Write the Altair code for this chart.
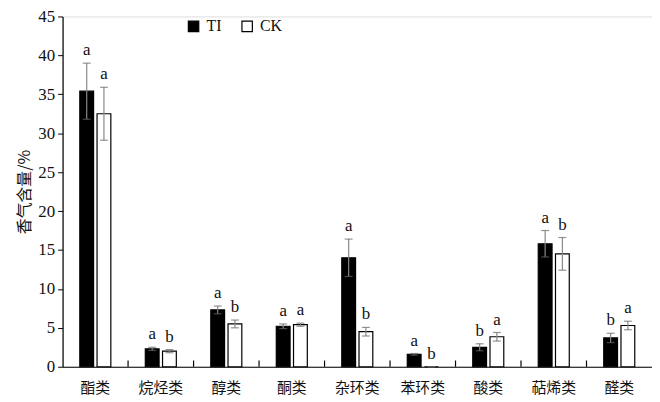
import altair as alt
import pandas as pd

categories = ["酯类", "烷烃类", "醇类", "酮类", "杂环类", "苯环类", "酸类", "萜烯类", "醛类"]
ti_mean = [35.4, 2.3, 7.3, 5.2, 14.0, 1.6, 2.5, 15.8, 3.7]
ti_sd = [3.6, 0.2, 0.5, 0.3, 2.4, 0.1, 0.45, 1.7, 0.6]
ti_sig = ["a", "a", "a", "a", "a", "a", "b", "a", "b"]
ck_mean = [32.5, 2.0, 5.5, 5.4, 4.5, 0.0, 3.85, 14.5, 5.3]
ck_sd = [3.4, 0.2, 0.5, 0.2, 0.55, 0.0, 0.55, 2.1, 0.55]
ck_sig = ["a", "b", "b", "a", "b", "b", "a", "b", "a"]
groups = ["TI", "CK"]
y_ticks = [0, 5, 10, 15, 20, 25, 30, 35, 40, 45]

rows = []
for i, c in enumerate(categories):
    for g, m, s, sig in (("TI", ti_mean, ti_sd, ti_sig), ("CK", ck_mean, ck_sd, ck_sig)):
        rows.append({"cat": c, "grp": g, "mean": m[i], "lo": m[i] - s[i], "hi": m[i] + s[i], "sig": sig[i]})
df = pd.DataFrame(rows)
ticks_df = pd.DataFrame({"cat": categories[1:]})

serif = "Liberation Serif"
cjk = "Noto Sans CJK SC"

xaxis = alt.Axis(title=None, ticks=False, labelAngle=0, labelFont=cjk, labelFontSize=15,
                 labelColor="#111", labelPadding=14, domainColor="#000", domainWidth=1.2)
yaxis = alt.Axis(title="香气含量/%", titleFont=cjk, titleFontSize=16, titleFontWeight="normal",
                 titleColor="#111", titlePadding=5, values=y_ticks,
                 labelOverlap=False, labelFlush=False,
                 labelFont=serif, labelFontSize=17, labelColor="#111", labelPadding=3,
                 tickSize=5, tickColor="#000", domainColor="#000", domainWidth=1.2, grid=False)
xscale = alt.Scale(paddingInner=0, paddingOuter=0)
yscale = alt.Scale(domain=[0, 45], nice=False)

def X(**kw):
    return alt.X("cat:N", sort=categories, scale=xscale, axis=xaxis, **kw)

def XO():
    return alt.XOffset("grp:N", sort=groups, scale=alt.Scale(paddingInner=0.2, paddingOuter=1))

def Y(field):
    return alt.Y(field, scale=yscale, axis=yaxis)

base = alt.Chart(df)

bars = base.mark_bar(stroke="#000", strokeWidth=1.2).encode(
    x=X(), xOffset=XO(), y=Y("mean:Q"),
    fill=alt.Fill("grp:N", sort=groups, scale=alt.Scale(domain=groups, range=["#000000", "#ffffff"]),
                  legend=alt.Legend(title=None, orient="none", legendX=124, legendY=2, direction="horizontal",
                                    symbolType="square", symbolSize=110, symbolStrokeColor="#000",
                                    symbolStrokeWidth=1.2, labelFont=serif, labelFontSize=16,
                                    labelColor="#111", columnPadding=17, labelOffset=5)),
)

err = base.mark_rule(color="#888", strokeWidth=1.2).encode(
    x=X(), xOffset=XO(), y=Y("lo:Q"), y2="hi:Q")
cap_hi = base.mark_tick(color="#666", thickness=1.2, size=8, orient="horizontal").encode(
    x=X(), xOffset=XO(), y=Y("hi:Q"))
cap_lo = base.mark_tick(color="#666", thickness=1.2, size=8, orient="horizontal").encode(
    x=X(), xOffset=XO(), y=Y("lo:Q"))

labels = base.mark_text(font=serif, fontSize=17, color="#111", baseline="bottom", dy=-4).encode(
    x=X(), xOffset=XO(), y=Y("hi:Q"), text="sig:N")

sep = alt.Chart(ticks_df).mark_rule(color="#000", strokeWidth=1.2).encode(
    x=X(bandPosition=0), y=alt.Y(datum=0, scale=yscale, axis=yaxis), y2=alt.datum(0.8))

chart = alt.layer(bars, err, cap_hi, cap_lo, labels, sep).properties(
    width=594, height=353,
    autosize=alt.AutoSizeParams(type="none"),
    padding={"left": 55, "top": 7, "right": 0, "bottom": 34},
).configure_view(stroke=None).configure(background="white")

chart.save("out.html", embed_options={"renderer": "svg", "actions": False})
